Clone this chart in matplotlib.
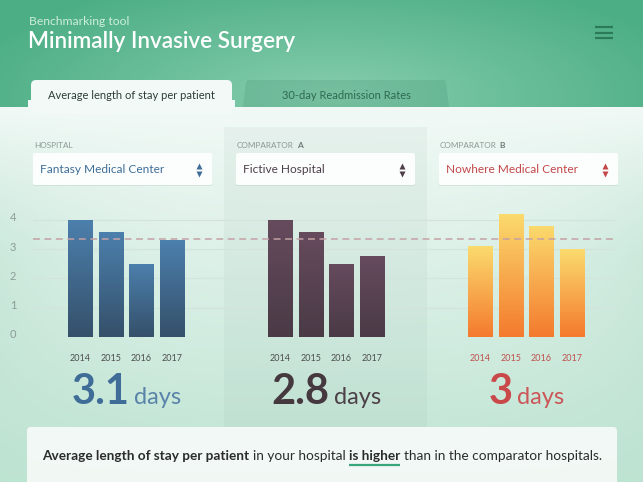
import numpy as np
import matplotlib
matplotlib.use('Agg')
import matplotlib.pyplot as plt
from matplotlib.patches import Rectangle, FancyBboxPatch, Polygon
from matplotlib.colors import LinearSegmentedColormap, to_rgb
from matplotlib.transforms import ScaledTranslation

plt.rcParams['font.family'] = ['Lato', 'DejaVu Sans']

# ---------------- data ----------------
years = ['2014', '2015', '2016', '2017']
hospital_stay = [4.0, 3.6, 2.5, 3.3]
comparator_a_stay = [4.0, 3.6, 2.5, 2.75]
comparator_b_stay = [3.1, 4.2, 3.8, 3.0]
average_days = ['3.1', '2.8', '3']
reference_value = 3.33
y_ticks = [0, 1, 2, 3, 4]
group_titles = [('HOSPITAL', ''), ('COMPARATOR', 'A'), ('COMPARATOR', 'B')]
hospital_names = ['Fantasy Medical Center', 'Fictive Hospital', 'Nowhere Medical Center']
tab_labels = ['Average length of stay per patient', '30-day Readmission Rates']
app_subtitle = 'Benchmarking tool'
app_title = 'Minimally Invasive Surgery'
summary_parts = [('Average length of stay per patient', 'bold'),
                 ('in your hospital', 'normal'),
                 ('is higher', 'bold'),
                 ('than in the comparator hospitals.', 'normal')]

# ---------------- styles ----------------
bar_grads = [('#4c80ad', '#35506a'), ('#664b5d', '#4a3a46'), ('#fbdb6e', '#f47a2e')]
name_colors = ['#3f6d98', '#4e3f4b', '#c2474a']
year_colors = ['#4d4d4d', '#4d4d4d', '#c0504d']
big_colors = ['#3f6d98', '#45383f', '#c9484a']
days_colors = ['#5a83aa', '#4d4048', '#cc5557']

W, H = 643, 482
fig = plt.figure(figsize=(W / 100, H / 100), dpi=100)
bg = fig.add_axes([0, 0, 1, 1])
bg.axis('off')

# background gradients
yy, xx = np.mgrid[0:H, 0:W].astype(float)
t = np.clip((yy - 107) / (H - 107), 0, 1)
top = np.array(to_rgb('#f1f9f6'))
bot = np.array(to_rgb('#bee4d2'))
body = top + (bot - top) * (t[..., None] ** 1.05)
edge = (np.abs(xx - W / 2) / (W / 2)) ** 3
edgecol = np.array(to_rgb('#bde2d1'))
body = body + (edgecol - body) * (0.55 * edge * np.clip((yy - 107) / 150, 0, 1))[..., None]
d = np.sqrt(((xx - 330) / 380) ** 2 + ((yy - 95) / 125) ** 2)
wgt = np.clip(1 - d, 0, 1) ** 1.0
hc = np.array(to_rgb('#4cae85'))
hl = np.array(to_rgb('#86cdae'))
header = hc + (hl - hc) * wgt[..., None]
img = np.where((yy < 107)[..., None], header, body)
bg.imshow(img, extent=(0, W, H, 0), aspect='auto', zorder=0, interpolation='bilinear')
bg.set_xlim(0, W)
bg.set_ylim(H, 0)

renderer = fig.canvas.get_renderer()

def width_of(txt):
    return txt.get_window_extent(renderer).width

# header texts
bg.text(29, 25, app_subtitle, color='#cdeedd', fontsize=8.7, va='baseline', zorder=3)
bg.text(28, 48, app_title, color='white', fontsize=16.2, weight='semibold', va='baseline', zorder=3)
for yl in (27, 32.5, 38):
    bg.plot([595, 613], [yl, yl], color='#2c7b58', lw=1.6, solid_capstyle='butt', zorder=3)

# tabs
bg.add_patch(FancyBboxPatch((31, 80), 201, 34, boxstyle='round,pad=0,rounding_size=5',
                            fc='#f2f9f6', ec='none', zorder=2))
bg.add_patch(Rectangle((28, 100), 207, 7, fc='#f2f9f6', ec='none', zorder=2))
bg.add_patch(Polygon([(243, 107), (246, 82), (248, 80), (444, 80), (446, 82), (449, 107)],
                     closed=True, fc='#3c8a6a', alpha=0.2, ec='none', zorder=2))
bg.text(131, 99, tab_labels[0], color='#2e3d39', fontsize=8, ha='center', va='baseline', zorder=3)
bg.text(346, 99, tab_labels[1], color='#2f6a52', fontsize=8, ha='center', va='baseline', zorder=3)

# comparator A shaded panel
bg.add_patch(Rectangle((224, 127), 203, 300, fc='#7d9f93', alpha=0.08, ec='none', zorder=1))

# group headers and dropdowns
box_x = [33, 236, 439]
for i in range(3):
    x0 = box_x[i]
    lab, letter = group_titles[i]
    tt = bg.text(x0 + 1, 148, lab, color='#8b9a95', fontsize=5.9, va='baseline', zorder=3)
    if letter:
        bg.text(x0 + 1 + width_of(tt) + 3, 148, letter, color='#6d7c77', fontsize=6,
                weight='bold', va='baseline', zorder=3)
    bg.add_patch(FancyBboxPatch((x0, 154), 179, 32, boxstyle='round,pad=0,rounding_size=2',
                                fc='#9fb7ad', alpha=0.25, ec='none', zorder=2))
    bg.add_patch(FancyBboxPatch((x0, 153), 179, 32, boxstyle='round,pad=0,rounding_size=2',
                                fc='#fcfefd', ec='none', zorder=2))
    bg.text(x0 + 7, 173, hospital_names[i], color=name_colors[i], fontsize=8.6,
            va='baseline', zorder=3)
    bg.plot([x0 + 166], [166.2], marker='^', ms=3.8, color=name_colors[i], mec='none', zorder=3)
    bg.plot([x0 + 166], [173.6], marker='v', ms=3.8, color=name_colors[i], mec='none', zorder=3)

# ---------------- bar axes ----------------
px_per_unit = 29.3
ymax = 4.6
ax = fig.add_axes([33 / W, (H - 337) / H, 582 / W, ymax * px_per_unit / H])
ax.patch.set_alpha(0)
for s in ax.spines.values():
    s.set_visible(False)

series = [hospital_stay, comparator_a_stay, comparator_b_stay]
group_left = 80.5 + 200 * np.arange(3)
offsets = 30.5 * np.arange(len(years))
bar_w = 25
all_pos = []
grad = np.linspace(0, 1, 256).reshape(-1, 1)
for g, vals in enumerate(series):
    pos = group_left[g] + offsets
    all_pos.extend(pos)
    bars = ax.bar(pos, vals, width=bar_w, color='none', edgecolor='none', zorder=3)
    cmap = LinearSegmentedColormap.from_list('g%d' % g, [bar_grads[g][1], bar_grads[g][0]])
    for p in bars:
        x0 = p.get_x()
        h = p.get_height()
        im = ax.imshow(grad, extent=(x0, x0 + p.get_width(), 0, h), origin='lower',
                       aspect='auto', cmap=cmap, zorder=3)
        im.set_clip_path(p)

ax.set_xlim(33, 615)
ax.set_ylim(0, ymax)
ax.set_yticks(y_ticks)
ax.set_yticklabels([str(v) for v in y_ticks])
ax.grid(axis='y', color='#d2e4dc', lw=0.9, zorder=1)
ax.set_axisbelow(True)
ax.axhline(reference_value, color='#c4a1a5', lw=1.1, ls=(0, (4.5, 3)), zorder=4)
ax.tick_params(axis='y', length=0, labelsize=8, labelcolor='#8c9c96', pad=12)
for lbl in ax.get_yticklabels():
    lbl.set_transform(lbl.get_transform() + ScaledTranslation(0, 3 / 100, fig.dpi_scale_trans))
ax.set_xticks(all_pos)
ax.set_xticklabels(years * 3)
ax.tick_params(axis='x', length=0, labelsize=6.5, pad=12)
for i, lbl in enumerate(ax.get_xticklabels()):
    lbl.set_color(year_colors[i // len(years)])

# big averages
centers = group_left + offsets.mean()
for g in range(3):
    t1 = bg.text(0, 404, average_days[g], color=big_colors[g], fontsize=30, weight='bold',
                 va='baseline', zorder=3)
    t2 = bg.text(0, 404, 'days', color=days_colors[g], fontsize=17, weight='normal',
                 va='baseline', zorder=3)
    w1, w2 = width_of(t1), width_of(t2)
    gap = 4
    start = centers[g] - (w1 + gap + w2) / 2
    t1.set_x(start)
    t2.set_x(start + w1 + gap)

# summary box
bg.add_patch(FancyBboxPatch((27, 427), 590, 70, boxstyle='round,pad=0,rounding_size=4',
                            fc='#f4faf7', alpha=0.95, ec='none', zorder=2))
x = 42
space = 3.5
for txt, wt in summary_parts:
    tt = bg.text(x, 460, txt, color='#2a2d2c', fontsize=9.85, weight=wt, va='baseline', zorder=3)
    wdt = width_of(tt)
    if txt == 'is higher':
        bg.plot([x, x + wdt], [464.5, 464.5], color='#3aa67b', lw=1.6, zorder=3,
                solid_capstyle='butt')
    x += wdt + space

fig.savefig('out.png', dpi=100)
